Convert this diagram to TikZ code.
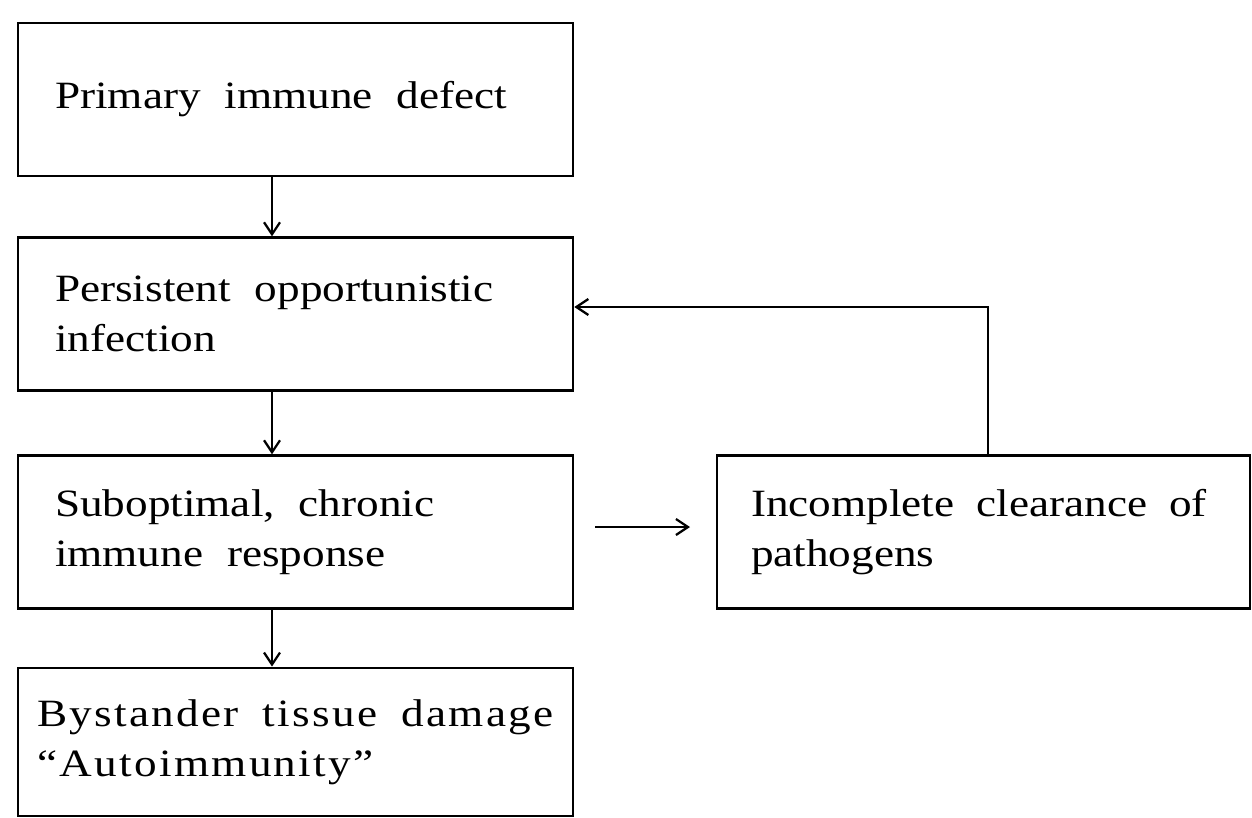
\documentclass[tikz,border=0pt]{standalone}
\usepackage{fontspec}
\setmainfont{Liberation Serif}[FakeStretch=1.17]
\usetikzlibrary{arrows.meta}
\newcommand\flowfont{\fontsize{22}{28.5}\selectfont}
\newcommand\wideflowfont{\fontsize{22}{28.5}\selectfont\addfontfeature{LetterSpace=6}}
\tikzset{
  flowbox/.style={rectangle, draw=black, line width=1.6pt, align=left, font=\flowfont, text width=9.62cm, minimum height=3.05cm, inner xsep=0.74cm, inner ysep=0pt,
    execute at begin node={\spaceskip=0.48cm plus 0.1cm\relax}},
  flowarrow/.style={-{Straight Barb[length=2.4mm,width=3.2mm]}, line width=1.3pt, draw=black},
}
\begin{document}
\begin{tikzpicture}[x=0.02cm,y=-0.02cm]
  \useasboundingbox (0,0) rectangle (1252,818);
  \node[flowbox, minimum height=3.06cm] (prim) at (295.5,99.5) {Primary immune defect};
  \node[flowbox] (pers) at (295.5,314) {Persistent opportunistic \\ infection};
  \node[flowbox] (subopt) at (295.5,532) {Suboptimal, chronic \\ immune response};
  \node[flowbox, text width=10.34cm, inner xsep=0.38cm, minimum height=2.96cm, font=\wideflowfont] (bystander) at (295.5,742) {Bystander tissue damage \\ ``Autoimmunity''};
  \node[flowbox, text width=9.3cm, inner xsep=0.68cm, execute at begin node={\spaceskip=0.44cm plus 0.1cm\relax}] (clear) at (983.5,532) {Incomplete clearance of \\ pathogens};

  \foreach \a/\b in {prim/pers, pers/subopt, subopt/bystander} { \draw[flowarrow] ([xshift=-0.47cm]\a.south) -- ([xshift=-0.47cm]\b.north); }
  \coordinate (outstart) at (595,527);
  \coordinate (outend) at (690,527);
  \draw[flowarrow] (outstart) -- (outend);
  \draw[flowarrow] ([xshift=0.09cm]clear.north) |- ([yshift=0.14cm]pers.east);
\end{tikzpicture}
\end{document}
